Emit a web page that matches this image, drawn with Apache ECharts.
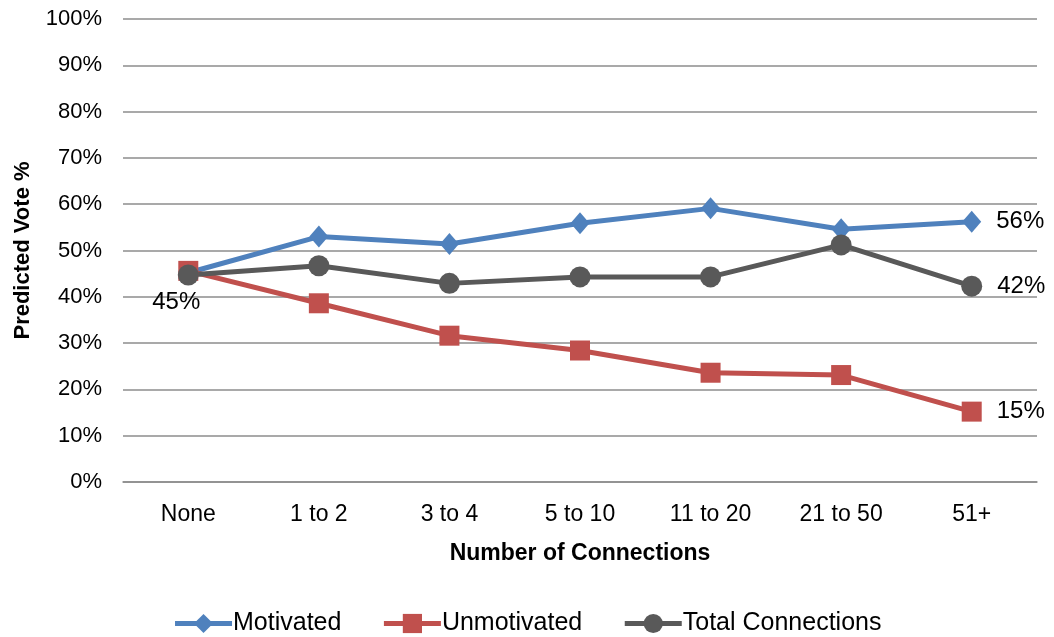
<!DOCTYPE html>
<html>
<head>
<meta charset="utf-8">
<script src="https://cdn.jsdelivr.net/npm/echarts@6/dist/echarts.min.js"></script>
<style>
  html, body { margin: 0; padding: 0; background: #ffffff; }
  #chart { width: 1054px; height: 637px; }
</style>
</head>
<body>
<div id="chart"></div>
<script>
// Categories along the x axis
const categories = ['None', '1 to 2', '3 to 4', '5 to 10', '11 to 20', '21 to 50', '51+'];

// Predicted vote share (%) by number of connections
const motivated   = [45.2, 53.0, 51.4, 55.9, 59.1, 54.6, 56.2];
const unmotivated = [45.6, 38.6, 31.6, 28.4, 23.6, 23.1, 15.2];
const totalConn   = [44.7, 46.7, 42.9, 44.3, 44.3, 51.2, 42.3];

// Points that carry a value label: series name -> category indices
const labelled = {
  'Motivated': [6],
  'Unmotivated': [6],
  'Total Connections': [0, 6]
};

const sans = '"Liberation Sans", Arial, sans-serif';

function makeSeries(name, values, color, symbol, size) {
  const idx = labelled[name];
  return {
    name: name,
    type: 'line',
    data: values.map((v, i) => {
      const item = { value: v };
      if (idx.indexOf(i) >= 0) {
        const first = i === 0;
        item.label = {
          show: true,
          position: first ? 'bottom' : 'right',
          offset: first ? [-12, -3] : [10, 0],
          distance: first ? 8 : 5,
          formatter: p => Math.round(p.value) + '%',
          fontFamily: sans,
          fontSize: 24,
          color: '#000000'
        };
      }
      return item;
    }),
    symbol: symbol,
    symbolSize: size,
    showAllSymbol: true,
    lineStyle: { color: color, width: 5 },
    itemStyle: { color: color },
    emphasis: { disabled: true },
    animation: false
  };
}

const chart = echarts.init(document.getElementById('chart'), null, { renderer: 'canvas' });
chart.setOption({
  backgroundColor: '#ffffff',
  animation: false,
  grid: { left: 123, right: 17, top: 19, bottom: 155, containLabel: false },
  legend: {
    top: 606,
    left: 'center',
    itemWidth: 57,
    itemHeight: 24,
    itemGap: 40,
    lineStyle: { width: 5 },
    textStyle: { fontFamily: sans, fontSize: 25, color: '#000000', padding: [0, 0, 0, -4] },
    data: ['Motivated', 'Unmotivated', 'Total Connections']
  },
  xAxis: {
    type: 'category',
    data: categories,
    boundaryGap: true,
    name: 'Number of Connections',
    nameLocation: 'middle',
    nameGap: 60,
    nameTextStyle: { fontFamily: sans, fontSize: 23, fontWeight: 'bold', color: '#000000' },
    axisLine: { show: true, lineStyle: { color: '#8c8c8c', width: 1.5 } },
    axisTick: { show: false },
    axisLabel: { fontFamily: sans, fontSize: 23, color: '#000000', margin: 21 }
  },
  yAxis: {
    type: 'value',
    min: 0,
    max: 100,
    interval: 10,
    name: 'Predicted Vote %',
    nameLocation: 'middle',
    nameGap: 89,
    nameRotate: 90,
    nameTextStyle: { fontFamily: sans, fontSize: 22, fontWeight: 'bold', color: '#000000' },
    axisLine: { show: false },
    axisTick: { show: false },
    axisLabel: {
      formatter: '{value}%',
      fontFamily: sans,
      fontSize: 22,
      color: '#000000',
      margin: 21
    },
    splitLine: { show: true, lineStyle: { color: '#8c8c8c', width: 1.5 } }
  },
  series: [
    makeSeries('Motivated', motivated, '#4F81BD', 'diamond', [19, 22]),
    makeSeries('Unmotivated', unmotivated, '#C0504D', 'rect', 20),
    makeSeries('Total Connections', totalConn, '#595959', 'circle', 21)
  ]
});
</script>
</body>
</html>
